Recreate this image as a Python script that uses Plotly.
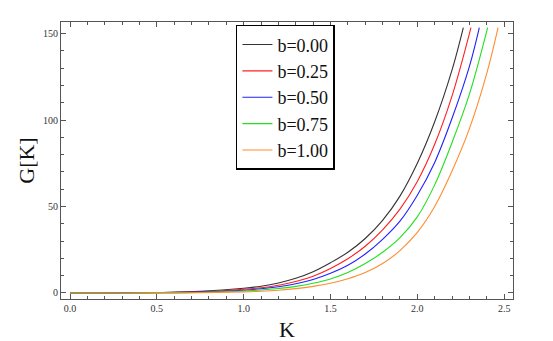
import plotly.graph_objects as go

# values (K, G[K]) for each b
k_b000 = [0.0, 0.25, 0.5, 0.75, 1.0, 1.1, 1.2, 1.3, 1.4, 1.5, 1.6, 1.7, 1.8, 1.9, 2.0, 2.1, 2.2, 2.265]
g_b000 = [0.0, 0.02, 0.25, 0.9, 2.7, 3.9, 5.8, 8.5, 12.3, 17.5, 23.5, 31.5, 42.0, 56.0, 75.0, 99.0, 129.0, 153.5]

k_b025 = [0.0, 0.25, 0.5, 0.75, 1.0, 1.1, 1.2, 1.3, 1.4, 1.5, 1.6, 1.7, 1.8, 1.9, 2.0, 2.1, 2.2, 2.309]
g_b025 = [0.0, 0.01, 0.18, 0.7, 2.1, 3.0, 4.5, 6.6, 9.7, 14.2, 19.8, 27.0, 36.5, 48.5, 64.5, 86.0, 114.0, 153.5]

k_b050 = [0.0, 0.25, 0.5, 0.75, 1.0, 1.1, 1.2, 1.3, 1.4, 1.5, 1.6, 1.7, 1.8, 1.9, 2.0, 2.1, 2.2, 2.3, 2.357]
g_b050 = [0.0, 0.01, 0.12, 0.5, 1.6, 2.4, 3.6, 5.3, 7.8, 11.4, 16.0, 22.5, 31.0, 41.5, 56.5, 75.5, 101.0, 131.0, 153.5]

k_b075 = [0.0, 0.25, 0.5, 0.75, 1.0, 1.1, 1.2, 1.3, 1.4, 1.5, 1.6, 1.7, 1.8, 1.9, 2.0, 2.1, 2.2, 2.3, 2.405]
g_b075 = [0.0, 0.0, 0.07, 0.3, 1.1, 1.7, 2.6, 3.8, 5.6, 8.1, 11.8, 17.0, 23.5, 32.0, 44.0, 62.5, 87.0, 115.0, 153.5]

k_b100 = [0.0, 0.25, 0.5, 0.75, 1.0, 1.1, 1.2, 1.3, 1.4, 1.5, 1.6, 1.7, 1.8, 1.9, 2.0, 2.1, 2.2, 2.3, 2.4, 2.465]
g_b100 = [0.0, 0.0, 0.03, 0.15, 0.6, 1.0, 1.6, 2.5, 3.8, 5.6, 8.2, 11.8, 17.0, 24.5, 35.0, 50.0, 70.5, 95.0, 127.0, 153.5]

labels = ["b=0.00", "b=0.25", "b=0.50", "b=0.75", "b=1.00"]
colors = ["#333333", "#ff2020", "#2020ff", "#20e020", "#ff8c30"]
curves = [(k_b000, g_b000), (k_b025, g_b025), (k_b050, g_b050),
          (k_b075, g_b075), (k_b100, g_b100)]

serif = "Liberation Serif"

fig = go.Figure()
for (k, g), name, col in zip(curves, labels, colors):
    fig.add_trace(go.Scatter(
        x=k, y=g, mode="lines", name=name,
        line=dict(color=col, width=1.1, shape="spline", smoothing=1.0),
    ))

axis_common = dict(
    showline=True, linecolor="#555555", linewidth=1.2, mirror="allticks",
    ticks="inside", ticklen=5, tickwidth=1, tickcolor="#555555",
    showgrid=False, zeroline=False, automargin=False,
    tickfont=dict(family=serif, size=10, color="#333333"),
)

fig.update_xaxes(
    range=[-0.052, 2.551], tick0=0, dtick=0.5, tickformat=".1f",
    minor=dict(ticks="inside", ticklen=3, dtick=0.1, tickcolor="#555555", showgrid=False),
    title=dict(text="K", font=dict(family=serif, size=22, color="#111111"), standoff=8),
    **axis_common,
)
fig.update_yaxes(
    range=[-3.5, 156.7], tick0=0, dtick=50,
    minor=dict(ticks="inside", ticklen=3, dtick=10, tickcolor="#555555", showgrid=False),
    title=dict(text="G[K]", font=dict(family=serif, size=22, color="#111111"), standoff=2),
    **axis_common,
)

# the page adds an 8px body margin, so the plot box is placed 8px up/left
fig.update_layout(
    width=553, height=341,
    margin=dict(l=53, r=48, t=14, b=50),
    plot_bgcolor="white", paper_bgcolor="white",
    legend=dict(
        x=0.387, y=0.99, xanchor="left", yanchor="top",
        bordercolor="black", borderwidth=1.5, bgcolor="white",
        font=dict(family=serif, size=18, color="#111111"),
        itemwidth=30, tracegroupgap=0,
        entrywidth=96, entrywidthmode="pixels",
    ),
)

fig.write_html("out.html")
